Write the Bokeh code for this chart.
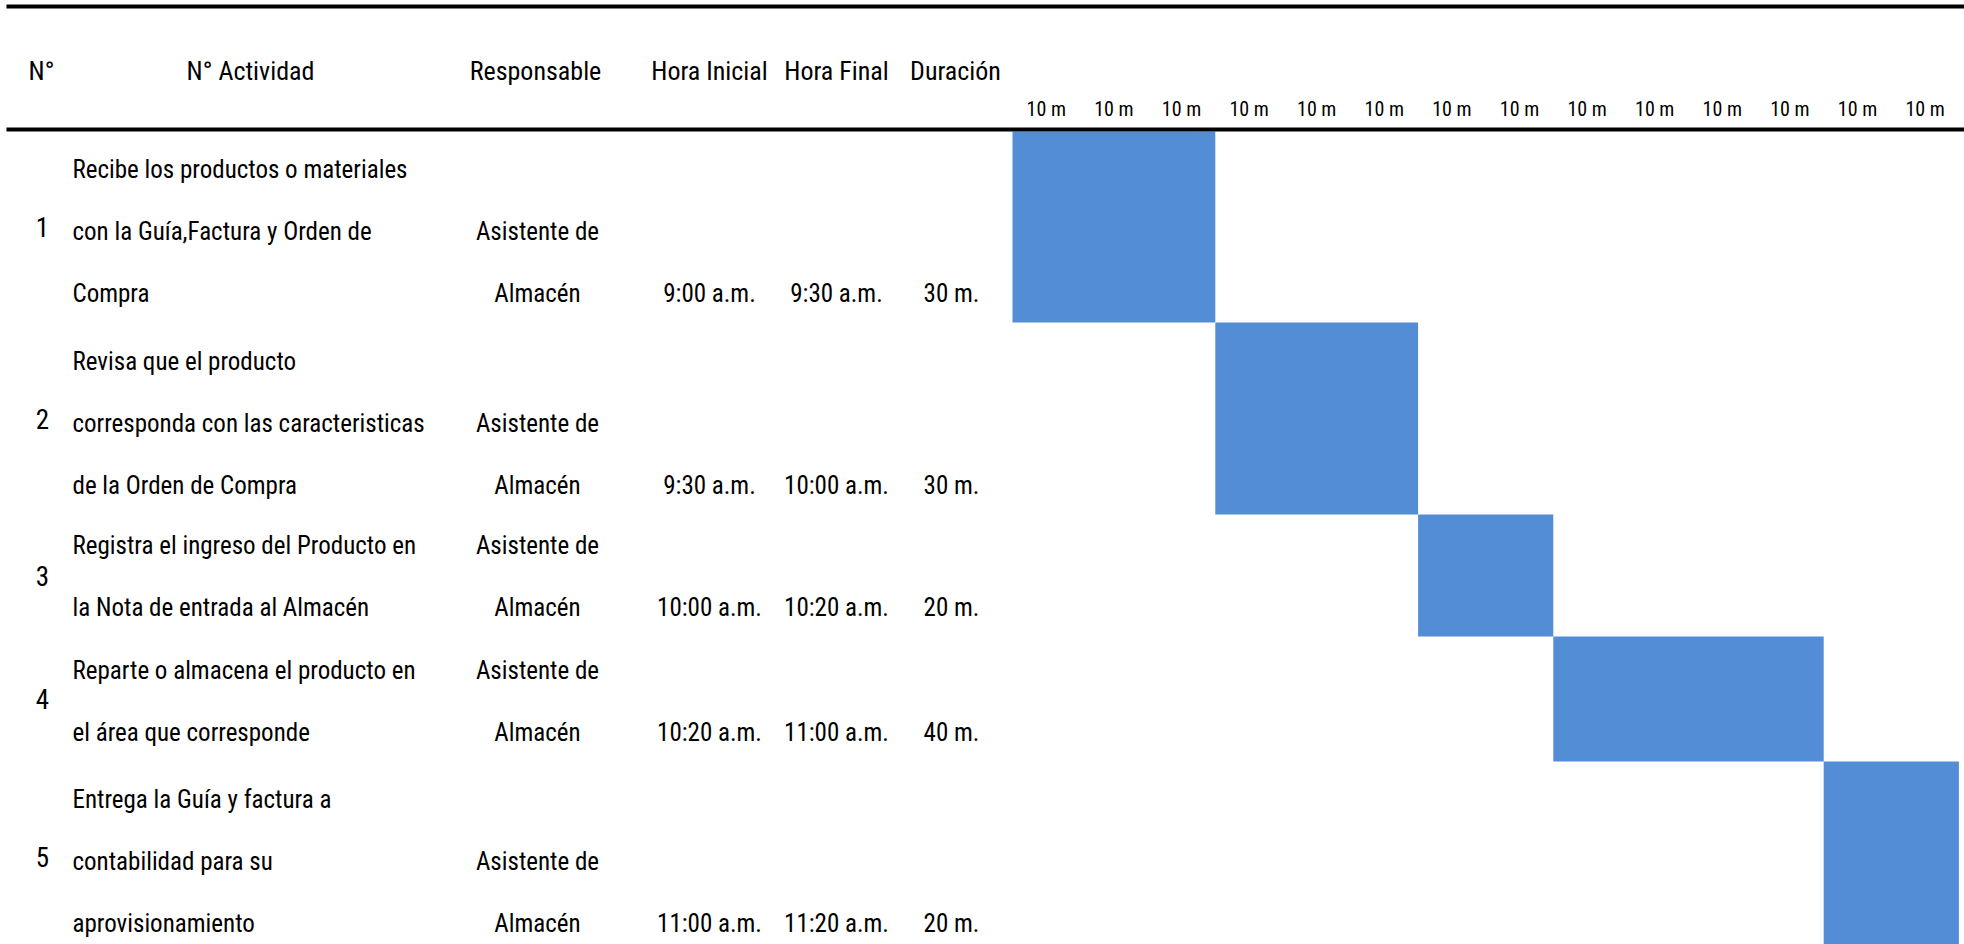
from bokeh.plotting import figure
from bokeh.models import Range1d
from bokeh.embed import file_html
from bokeh.resources import INLINE
from bokeh.core.properties import value

# ---- data -------------------------------------------------------------
encabezados = ["N°", "N° Actividad", "Responsable", "Hora Inicial", "Hora Final", "Duración"]
numeros = ["1", "2", "3", "4", "5"]
actividades = [
    ["Recibe los productos o materiales", "con la Guía,Factura y Orden de", "Compra"],
    ["Revisa que el producto", "corresponda con las caracteristicas", "de la Orden de Compra"],
    ["Registra el ingreso del Producto en", "la Nota de entrada al Almacén"],
    ["Reparte o almacena el producto en", "el área que corresponde"],
    ["Entrega la Guía y factura a", "contabilidad para su", "aprovisionamiento"],
]
responsables = [["Asistente de", "Almacén"]] * 5
hora_inicial = ["9:00 a.m.", "9:30 a.m.", "10:00 a.m.", "10:20 a.m.", "11:00 a.m."]
hora_final = ["9:30 a.m.", "10:00 a.m.", "10:20 a.m.", "11:00 a.m.", "11:20 a.m."]
duracion = ["30 m.", "30 m.", "20 m.", "40 m.", "20 m."]
franjas = ["10 m"] * 14          # one column per 10-minute slot
franja_min = 10
inicio_jornada = "9:00 a.m."


def minutos(hora):
    hm = hora.split(" ")[0]
    h, m = hm.split(":")
    return int(h) * 60 + int(m)


t0 = minutos(inicio_jornada)
bar_start = [minutos(h) - t0 for h in hora_inicial]
bar_end = [minutos(h) - t0 for h in hora_final]

# ---- layout -----------------------------------------------------------
W, H = 1964, 944
FONT = value("'Noto Sans ExtraCondensed', 'Roboto Condensed', 'Liberation Sans Narrow', "
             "'DejaVu Sans Condensed', sans-serif")
TXT = "25px"

GANTT_X0 = 1012          # pixel where 9:00 sits
PX_PER_MIN = 6.76

row_h = [191, 192, 122, 125, 191]
row_top = [131]
for h in row_h[:-1]:
    row_top.append(row_top[-1] + h)
row_bot = [t + h for t, h in zip(row_top, row_h)]
LINE = 62

p = figure(width=W, height=H, x_range=Range1d(0, W), y_range=Range1d(H, 0),
           x_axis_type=None, y_axis_type=None, toolbar_location=None,
           output_backend="svg", min_border=0, outline_line_color=None,
           background_fill_color="white", border_fill_color="white")
p.grid.visible = False
p.extra_x_ranges = {"t": Range1d(-GANTT_X0 / PX_PER_MIN, (W - GANTT_X0) / PX_PER_MIN)}

# Gantt bars
p.quad(left=bar_start, right=bar_end, top=row_top, bottom=row_bot,
       x_range_name="t", fill_color="#538DD5", line_color=None)

# horizontal rules
p.segment(x0=[6, 6], y0=[6, 129], x1=[W, W], y1=[6, 129], line_color="black", line_width=4)

# header row
head_x = [41, 250, 535, 709, 836, 955]
p.text(x=head_x, y=[70] * 6, text=encabezados, text_font=FONT, text_font_size="26px",
       text_align="center", text_baseline="middle", text_color="black")

# slot labels
slot_x = [franja_min * i + franja_min / 2 for i in range(len(franjas))]
p.text(x=slot_x, y=[108] * len(franjas), text=franjas, x_range_name="t",
       text_font=FONT, text_font_size="20px", text_align="center",
       text_baseline="middle", text_color="black")

# row contents (bottom-aligned lines, number centred in its row)
nx, ny = [], []
ax, ay, at = [], [], []
rx, ry, rt = [], [], []
tx, ty, tt = [], [], []
for k in range(len(numeros)):
    mid_last = row_bot[k] - 29
    nx.append(42)
    ny.append((row_top[k] + row_bot[k]) / 2)
    lines = actividades[k]
    for i, s in enumerate(lines):
        ax.append(72)
        ay.append(mid_last - (len(lines) - 1 - i) * LINE)
        at.append(s)
    rl = responsables[k]
    for i, s in enumerate(rl):
        rx.append(537)
        ry.append(mid_last - (len(rl) - 1 - i) * LINE)
        rt.append(s)
    for cx, s in zip([709, 836, 951], [hora_inicial[k], hora_final[k], duracion[k]]):
        tx.append(cx)
        ty.append(mid_last)
        tt.append(s)

p.text(x=nx, y=ny, text=numeros, text_font=FONT, text_font_size="27px",
       text_align="center", text_baseline="middle", text_color="black")
p.text(x=ax, y=ay, text=at, text_font=FONT, text_font_size=TXT,
       text_align="left", text_baseline="middle", text_color="black")
p.text(x=rx, y=ry, text=rt, text_font=FONT, text_font_size=TXT,
       text_align="center", text_baseline="middle", text_color="black")
p.text(x=tx, y=ty, text=tt, text_font=FONT, text_font_size=TXT,
       text_align="center", text_baseline="middle", text_color="black")

open("out.html", "w").write(file_html(p, INLINE))
